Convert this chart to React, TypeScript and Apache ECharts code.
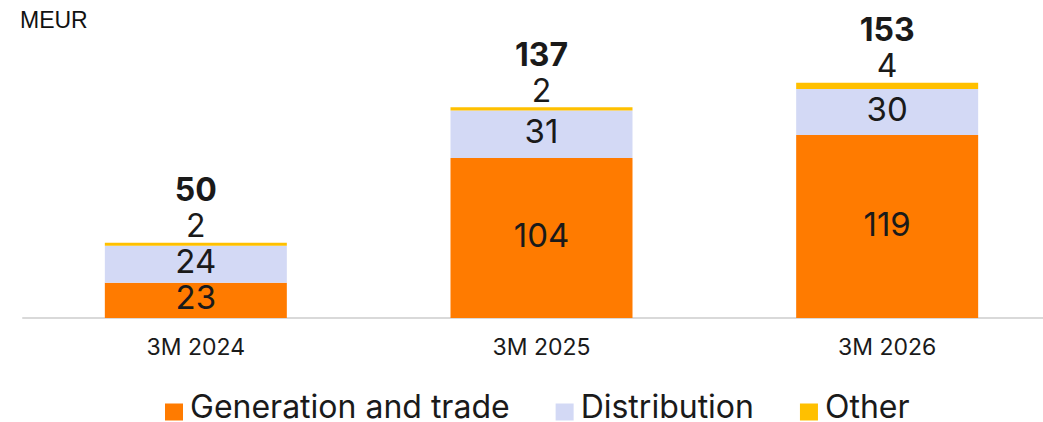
import React, { useEffect, useRef } from "react";
import * as echarts from "echarts";

const categories = ["3M 2024", "3M 2025", "3M 2026"];
const generation = [23, 104, 119];
const distribution = [24, 31, 30];
const other = [2, 2, 4];
const totals = [50, 137, 153];
const unitLabel = "MEUR";

const FONT = "Inter, 'Noto Sans', sans-serif";
const LEGEND_ICON = "path://M0 0h0.01v0.01h-0.01z M0 12h18v17h-18z";

export default function App() {
  const ref = useRef<HTMLDivElement>(null);
  useEffect(() => {
    document.body.style.margin = "0";
    document.body.style.overflow = "hidden";
    const chart = echarts.init(ref.current!, null, { renderer: "svg" });
    const inner = {
      show: true,
      position: "inside",
      offset: [0, -3],
      color: "#1a1a1a",
      fontSize: 33,
      fontFamily: FONT,
    };
    chart.setOption({
      animation: false,
      textStyle: { fontFamily: FONT },
      graphic: [
        {
          type: "text",
          left: 20,
          top: 8,
          style: { text: unitLabel, fontSize: 23, fontFamily: "'Liberation Sans', Arial, sans-serif", fill: "#111" },
        },
      ],
      grid: { left: 23, right: 0, top: 72, bottom: 104 },
      legend: {
        top: 385,
        left: 160,
        itemWidth: 18,
        itemHeight: 29,
        itemGap: 46,
        icon: LEGEND_ICON,
        textStyle: { fontSize: 32, color: "#1a1a1a", fontFamily: FONT, padding: [0, 0, 0, 2] },
        data: ["Generation and trade", "Distribution", "Other"],
      },
      xAxis: {
        type: "category",
        data: categories,
        axisLine: { lineStyle: { color: "#d9d9d9", width: 2 } },
        axisTick: { show: false },
        axisLabel: { fontSize: 23, color: "#1a1a1a", margin: 17, fontFamily: FONT },
      },
      yAxis: { type: "value", min: 0, max: 160, show: false, splitLine: { show: false } },
      series: [
        {
          name: "Generation and trade",
          type: "bar",
          stack: "s",
          barWidth: 182,
          data: generation,
          itemStyle: { color: "#ff7b00" },
          label: inner,
        },
        {
          name: "Distribution",
          type: "bar",
          stack: "s",
          data: distribution,
          itemStyle: { color: "#d3d9f5" },
          label: inner,
        },
        {
          name: "Other",
          type: "bar",
          stack: "s",
          data: other,
          itemStyle: { color: "#ffc000" },
          label: {
            show: true,
            position: "top",
            distance: 0,
            formatter: (p: any) => `{t|${totals[p.dataIndex]}}\n{v|${p.value}}`,
            rich: {
              t: { fontSize: 32, fontWeight: "bold", color: "#1a1a1a", lineHeight: 38, fontFamily: FONT },
              v: { fontSize: 32, color: "#1a1a1a", lineHeight: 34, fontFamily: FONT },
            },
          },
        },
      ],
    });
    return () => chart.dispose();
  }, []);
  return <div ref={ref} style={{ position: "absolute", left: 0, top: 0, width: 1060, height: 422 }} />;
}
